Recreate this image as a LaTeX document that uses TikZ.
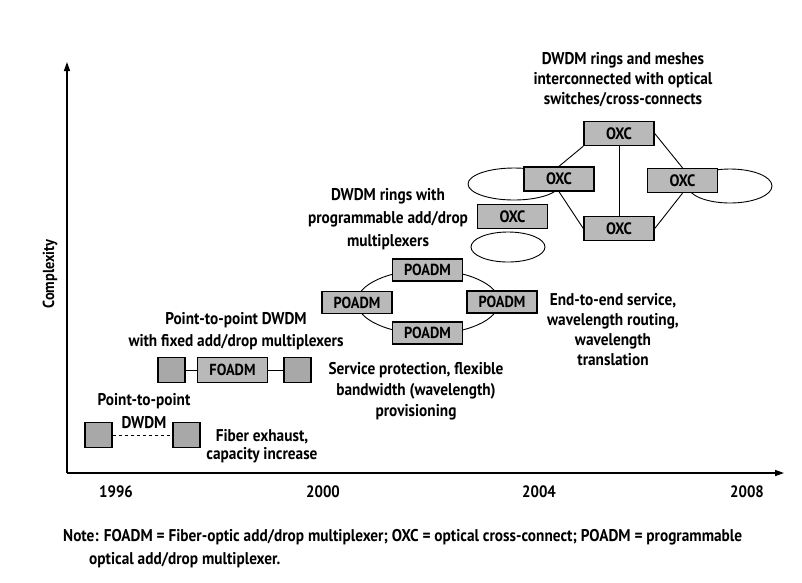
\documentclass[tikz,border=0pt]{standalone}
\usepackage{fontspec}
\setmainfont{PT Sans}[FakeStretch=0.9]
\usetikzlibrary{arrows.meta}
\pgfdeclarelayer{background}
\pgfsetlayers{background,main}
\newcommand{\myfs}[2]{\fontsize{#1}{#2}\selectfont\bfseries}
\begin{document}
\begin{tikzpicture}[x=1pt,y=-1pt,
  box/.style={draw=black, line width=1.4pt, fill=gray!55, inner sep=0pt, font=\myfs{16}{16}},
  oxc/.style={box, minimum width=70pt, minimum height=24pt, font=\myfs{16.5}{16.5}},
  poadm/.style={box, minimum width=70pt, minimum height=22pt},
  sbox/.style={box, fill=gray!68, minimum width=27pt, minimum height=25pt},
  lbl/.style={align=center, inner sep=0pt},
  link/.style={draw=black, line width=0.9pt},
  axis/.style={draw=black, line width=1.4pt, -{Triangle[length=9pt,width=6pt]}}
]
\useasboundingbox (0,0) rectangle (802,582);

% axes
\coordinate (origin) at (67,473);
\coordinate (ytop) at (67,62);
\coordinate (xend) at (784,473);
\draw[axis] (origin) -- (ytop);
\draw[axis] (origin) -- (xend);
\node[lbl, rotate=90, font=\myfs{16}{16}] (cplx) at (50,274) {Complexity};

% years
\node[lbl, font=\myfs{16.5}{16.5}] (y1996) at (116,492) {1996};
\node[lbl, font=\myfs{16.5}{16.5}] (y2000) at (323,492) {2000};
\node[lbl, font=\myfs{16.5}{16.5}] (y2004) at (539,492) {2004};
\node[lbl, font=\myfs{16.5}{16.5}] (y2008) at (747,492) {2008};

% stage 1: point-to-point
\node[sbox] (bL) at (98.5,435) {};
\node[sbox] (bR) at (186.5,435) {};
\begin{pgfonlayer}{background}
\draw[link, dash pattern=on 3pt off 3pt] (bL) -- (bR);
\end{pgfonlayer}
\node[lbl, font=\myfs{17}{23}] (lp2p) at (144,411.5) {Point-to-point\\DWDM};
\node[lbl, font=\myfs{17}{18}] (lfiber) at (262,446) {Fiber exhaust,\\capacity increase};

% stage 2: FOADM
\node[sbox] (fL) at (171.5,370) {};
\node[box, minimum width=70pt, minimum height=25pt] (foadm) at (232.5,370) {FOADM};
\node[sbox] (fR) at (297.5,370) {};
\begin{pgfonlayer}{background}
\draw[link] (fL) -- (foadm);
\draw[link] (foadm) -- (fR);
\end{pgfonlayer}
\node[lbl, font=\myfs{17}{22}] (lfixed) at (236,331) {Point-to-point DWDM\\with fixed add/drop multiplexers};

% stage 3: POADM ring
\node[poadm] (pT) at (427.5,270) {POADM};
\node[poadm] (pL) at (357,302.5) {POADM};
\node[poadm] (pR) at (502,302) {POADM};
\node[poadm] (pB) at (427.5,333) {POADM};
\begin{pgfonlayer}{background}
\draw[link] (428,302) ellipse [x radius=71, y radius=32];
\end{pgfonlayer}
\node[lbl, font=\myfs{17}{23}] (lrings) at (388,219) {DWDM rings with\\programmable add/drop\\multiplexers};
\node[lbl, font=\myfs{17}{21}] (lserv) at (416,391) {Service protection, flexible\\bandwidth (wavelength)\\provisioning};

% stage 4: OXC mesh
\node[oxc] (oxcT) at (619,133.5) {OXC};
\node[oxc] (oxcL) at (559,179) {OXC};
\node[oxc] (oxcR) at (682.5,180.5) {OXC};
\node[oxc] (oxcB) at (619,228.5) {OXC};
\node[oxc] (oxcS) at (512.5,216.5) {OXC};
\begin{pgfonlayer}{background}
\draw[link] (514,184) ellipse [x radius=46, y radius=16];
\draw[link] (730,186) ellipse [x radius=42, y radius=17];
\draw[link] (508,247) ellipse [x radius=37, y radius=15];
\draw[link] (oxcT.south west) -- (oxcL.north);
\draw[link] (oxcT.east) -- (oxcR.north);
\draw[link] (oxcT.south) -- (oxcB.north);
\draw[link] (oxcL.south) -- (oxcB.west);
\draw[link] (oxcR.south) -- (oxcB.east);
\end{pgfonlayer}
\node[lbl, font=\myfs{17}{20}] (lmesh) at (623,80) {DWDM rings and meshes\\interconnected with optical\\switches/cross-connects};
\node[lbl, font=\myfs{17}{20}] (lend) at (613,330) {End-to-end service,\\wavelength routing,\\wavelength\\translation};

% note
\node[lbl, anchor=west, font=\myfs{17}{17}] (note1) at (63,537) {Note: FOADM = Fiber-optic add/drop multiplexer; OXC = optical cross-connect; POADM = programmable};
\node[lbl, anchor=west, font=\myfs{17}{17}] (note2) at (89,560) {optical add/drop multiplexer.};
\end{tikzpicture}
\end{document}
